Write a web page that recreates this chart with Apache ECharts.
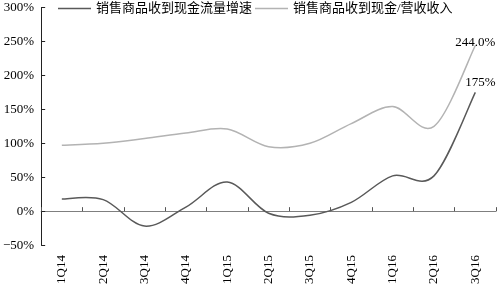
<!DOCTYPE html>
<html>
<head>
<meta charset="utf-8">
<script src="https://cdn.jsdelivr.net/npm/echarts@6/dist/echarts.min.js"></script>
<style>html,body{margin:0;padding:0;background:#fff}#c{width:497px;height:287px}</style>
</head>
<body>
<div id="c"></div>
<script>
var categories = ['1Q14','2Q14','3Q14','4Q14','1Q15','2Q15','3Q15','4Q15','1Q16','2Q16','3Q16'];
var seriesNames = ['销售商品收到现金流量增速', '销售商品收到现金/营收收入'];
var cashGrowth = [18, 17, -22, 6, 43, -3, -6, 13, 52, 52, 175];
var cashToRevenue = [97, 100, 107, 115, 121, 95, 100, 129, 154, 125, 244];
var endLabels = ['175%', '244.0%'];

var FONT = '"Liberation Serif", "Times New Roman", "DejaVu Serif", serif';
var CJKFONT = '"Liberation Serif", "Noto Sans CJK SC", serif';

// Smooth (Catmull-Rom style) line through the points, drawn via the chart's scales
function makeRender(label, labelOffset) {
  return function (params, api) {
    if (params.dataIndex !== 0) return null;
    var n = params.dataInsideLength;
    var pts = [];
    for (var i = 0; i < n; i++) pts.push(api.coord([api.value(0, i), api.value(1, i)]));
    var k = 1 / 6;
    var d = 'M' + pts[0][0] + ',' + pts[0][1];
    for (var j = 0; j < n - 1; j++) {
      var p0 = pts[Math.max(j - 1, 0)], p1 = pts[j], p2 = pts[j + 1], p3 = pts[Math.min(j + 2, n - 1)];
      var c1x = p1[0] + (p2[0] - p0[0]) * k, c1y = p1[1] + (p2[1] - p0[1]) * k;
      var c2x = p2[0] - (p3[0] - p1[0]) * k, c2y = p2[1] - (p3[1] - p1[1]) * k;
      d += ' C' + c1x + ',' + c1y + ' ' + c2x + ',' + c2y + ' ' + p2[0] + ',' + p2[1];
    }
    var color = api.visual('color');
    var last = pts[n - 1];
    return {
      type: 'group',
      children: [
        { type: 'path', shape: { pathData: d }, style: { fill: null, stroke: color, lineWidth: 1.5 } },
        { type: 'text', x: last[0] + labelOffset[0], y: last[1] + labelOffset[1],
          style: { text: label, fill: '#000', font: '13px ' + FONT, align: 'center', verticalAlign: 'bottom' } }
      ]
    };
  };
}

function toPairs(arr) { return arr.map(function (v, i) { return [i, v]; }); }

var chart = echarts.init(document.getElementById('c'));
chart.setOption({
  animation: false,
  legend: {
    left: 53, top: -3, itemGap: 3, itemWidth: 33, itemHeight: 1.5, icon: 'rect',
    textStyle: { fontFamily: CJKFONT, fontSize: 13, color: '#000' },
    data: seriesNames
  },
  grid: { left: 39.5, right: 1, top: 7.5, bottom: 37, containLabel: false },
  xAxis: [
    {
      type: 'category', data: categories, position: 'bottom',
      axisLine: { show: false, onZero: false },
      axisTick: { show: false },
      axisLabel: { rotate: 90, margin: 10, fontFamily: FONT, fontSize: 13, color: '#000' }
    },
    {
      type: 'category', data: categories, position: 'bottom',
      axisLine: { show: true, onZero: true, lineStyle: { color: '#7f7f7f', width: 1 } },
      axisTick: { show: true, inside: true, length: 4, lineStyle: { color: '#555' } },
      axisLabel: { show: false }
    }
  ],
  yAxis: {
    type: 'value', min: -50, max: 300, interval: 50,
    axisLine: { show: true, lineStyle: { color: '#222', width: 1 } },
    axisTick: { show: true, inside: true, length: 4, lineStyle: { color: '#222' } },
    splitLine: { show: false },
    axisLabel: { margin: 7, fontFamily: FONT, fontSize: 13, color: '#000',
      formatter: function (v) { return (v < 0 ? '−' + (-v) : v) + '%'; } }
  },
  series: [
    {
      name: seriesNames[0], type: 'custom', xAxisIndex: 0, color: '#595959',
      itemStyle: { color: '#595959' },
      encode: { x: 0, y: 1 },
      renderItem: makeRender(endLabels[0], [5, -3]),
      data: toPairs(cashGrowth)
    },
    {
      name: seriesNames[1], type: 'custom', xAxisIndex: 0, color: '#b3b3b3',
      itemStyle: { color: '#b3b3b3' },
      encode: { x: 0, y: 1 },
      renderItem: makeRender(endLabels[1], [0, 4]),
      data: toPairs(cashToRevenue)
    }
  ]
});
</script>
</body>
</html>
